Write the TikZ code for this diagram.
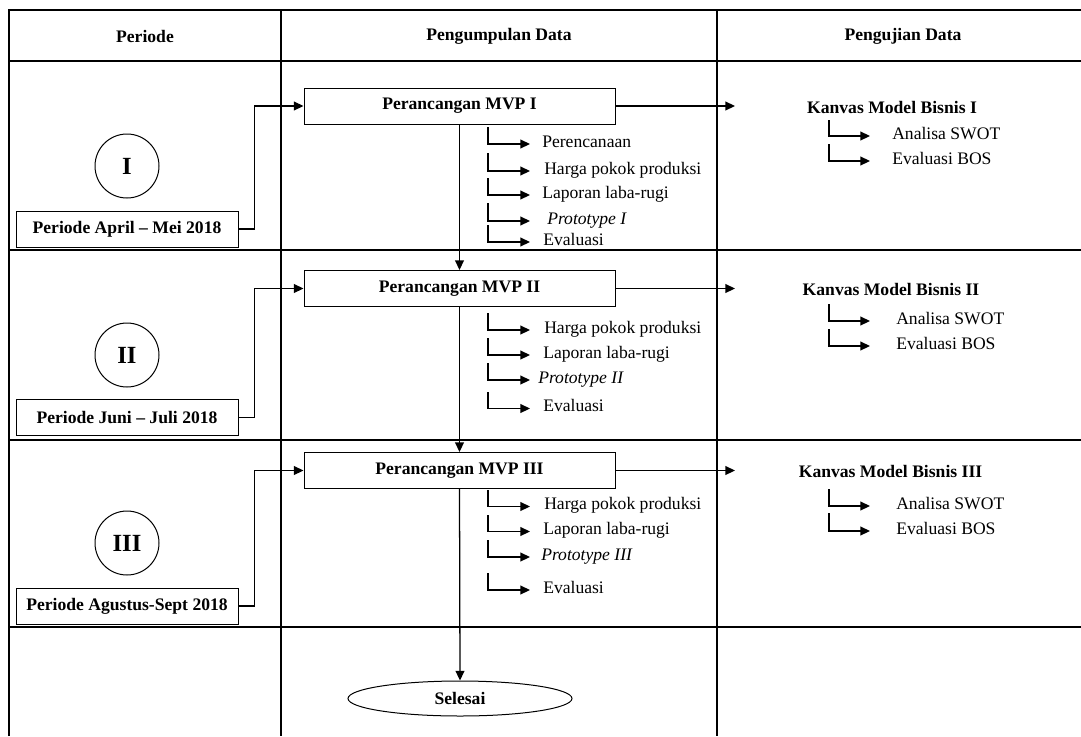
\documentclass[tikz,border=0pt]{standalone}
\usepackage{fontspec}
\setmainfont{Liberation Serif}
\usetikzlibrary{arrows.meta,shapes.geometric}
\begin{document}
\begin{tikzpicture}[x=0.75pt,y=-0.75pt,
  font=\fontsize{13.2pt}{15pt}\selectfont,
  grid/.style={line width=1.5pt},
  arr/.style={line width=0.95pt,-{Triangle[length=7.2pt,width=6.6pt]}},
  mvp/.style={draw,line width=0.75pt,minimum width=233.25pt,minimum height=27pt,inner sep=0pt,font=\fontsize{13.2pt}{15pt}\selectfont\bfseries},
  per/.style={draw,line width=0.75pt,minimum width=166.5pt,minimum height=27pt,inner sep=0pt,font=\fontsize{13.2pt}{15pt}\selectfont\bfseries},
  roman/.style={draw,circle,line width=0.75pt,minimum size=48pt,inner sep=0pt,font=\fontsize{18.5pt}{20pt}\selectfont\bfseries},
  head/.style={inner sep=0pt,font=\fontsize{13.2pt}{15pt}\selectfont\bfseries},
  item/.style={anchor=west,inner sep=0pt,text height=0.7em,text depth=0.22em},
  kanvas/.style={inner sep=0pt,font=\fontsize{13.2pt}{15pt}\selectfont\bfseries}
]
\useasboundingbox (0,0) rectangle (1081,736);
% table grid
\draw[grid] (9,736) -- (9,10) -- (1081,10);
\draw[grid] (9,61) -- (1081,61);
\draw[grid] (9,250) -- (1081,250);
\draw[grid] (9,440) -- (1081,440);
\draw[grid] (9,627) -- (1081,627);
\draw[grid] (281,10) -- (281,736);
\draw[grid] (717,10) -- (717,736);
% headers
\node[head] (h1) at (145,36) {Periode};
\node[head] (h2) at (499,36) {Pengumpulan Data};
\node[head] (h3) at (903,36) {Pengujian Data};
% period column
\node[roman] (c1) at (127,166) {I};
\node[roman] (c2) at (127,355) {II};
\node[roman] (c3) at (127,543) {III};
\node[per] (p1) at (127,229) {Periode April -- Mei 2018};
\node[per] (p2) at (127,417.5) {Periode Juni -- Juli 2018};
\node[per] (p3) at (127,606) {Periode Agustus-Sept 2018};
% MVP boxes
\node[mvp] (m1) at (459.5,106) {Perancangan MVP I};
\node[mvp] (m2) at (459.5,288.5) {Perancangan MVP II};
\node[mvp] (m3) at (459.5,470.5) {Perancangan MVP III};
\node[draw,ellipse,line width=0.75pt,minimum width=168pt,minimum height=26.25pt,inner sep=0pt,font=\fontsize{13.2pt}{15pt}\selectfont\bfseries] (sel) at (460,698.5) {Selesai};
% period connectors
\draw[arr] (p1.east) -- ++(16,0) |- (m1.west);
\draw[arr] (p2.east) -- ++(16,0) |- (m2.west);
\draw[arr] (p3.east) -- ++(16,0) |- (m3.west);
% vertical flow
\draw[arr] (m1.south) -- (m2.north);
\draw[arr] (m2.south) -- (m3.north);
\draw[arr] (m3.south) -- (sel.north);
% right arrows
\coordinate (ra) at (735,0);
\draw[arr] (m1.east) -- (m1.east -| ra);
\draw[arr] (m2.east) -- (m2.east -| ra);
\draw[arr] (m3.east) -- (m3.east -| ra);
% kanvas
\node[kanvas] (k1) at (892,107) {Kanvas Model Bisnis I};
\node[kanvas] (k2) at (891,289) {Kanvas Model Bisnis II};
\node[kanvas] (k3) at (890.5,471) {Kanvas Model Bisnis III};
% list tips
\coordinate (tl) at (530,0);
\coordinate (tr) at (870,0);
% row 1 items
\node[item] (a11) at (542,144) {Perencanaan};
\node[item] (a12) at (544,171) {Harga pokok produksi};
\node[item] (a13) at (542,195) {Laporan laba-rugi};
\node[item] (a14) at (547,221) {\itshape Prototype I};
\node[item] (a15) at (543,242) {Evaluasi};
\coordinate (s11) at (488,127);
\coordinate (s12) at (488,153);
\coordinate (s13) at (488,178);
\coordinate (s14) at (488,203);
\coordinate (s15) at (488,225);
\draw[arr] (s11) |- (a11.west -| tl);
\draw[arr] (s12) |- (a12.west -| tl);
\draw[arr] (s13) |- (a13.west -| tl);
\draw[arr] (s14) |- (a14.west -| tl);
\draw[arr] (s15) |- (a15.west -| tl);
% row 2 items
\node[item] (a21) at (544,330) {Harga pokok produksi};
\node[item] (a22) at (543,355) {Laporan laba-rugi};
\node[item] (a23) at (538,380) {\itshape Prototype II};
\node[item] (a24) at (543,408.5) {Evaluasi};
\coordinate (s21) at (488,313);
\coordinate (s22) at (488,338);
\coordinate (s23) at (488,363);
\coordinate (s24) at (488,392);
\draw[arr] (s21) |- (a21.west -| tl);
\draw[arr] (s22) |- (a22.west -| tl);
\draw[arr] (s23) |- (a23.west -| tl);
\draw[arr] (s24) |- (a24.west -| tl);
% row 3 items
\node[item] (a31) at (544,506.5) {Harga pokok produksi};
\node[item] (a32) at (543,531.5) {Laporan laba-rugi};
\node[item] (a33) at (541,557) {\itshape Prototype III};
\node[item] (a34) at (543,590) {Evaluasi};
\coordinate (s31) at (488,490);
\coordinate (s32) at (488,515);
\coordinate (s33) at (488,540);
\coordinate (s34) at (488,573);
\draw[arr] (s31) |- (a31.west -| tl);
\draw[arr] (s32) |- (a32.west -| tl);
\draw[arr] (s33) |- (a33.west -| tl);
\draw[arr] (s34) |- (a34.west -| tl);
% right items
\node[item] (b11) at (892,136) {Analisa SWOT};
\node[item] (b12) at (892,161) {Evaluasi BOS};
\node[item] (b21) at (896,321) {Analisa SWOT};
\node[item] (b22) at (896,346) {Evaluasi BOS};
\node[item] (b31) at (896,506) {Analisa SWOT};
\node[item] (b32) at (896,531) {Evaluasi BOS};
\coordinate (r11) at (829,120);
\coordinate (r12) at (829,144);
\coordinate (r21) at (829,304);
\coordinate (r22) at (829,329);
\coordinate (r31) at (829,489);
\coordinate (r32) at (829,513);
\draw[arr] (r11) |- (b11.west -| tr);
\draw[arr] (r12) |- (b12.west -| tr);
\draw[arr] (r21) |- (b21.west -| tr);
\draw[arr] (r22) |- (b22.west -| tr);
\draw[arr] (r31) |- (b31.west -| tr);
\draw[arr] (r32) |- (b32.west -| tr);
\end{tikzpicture}
\end{document}
